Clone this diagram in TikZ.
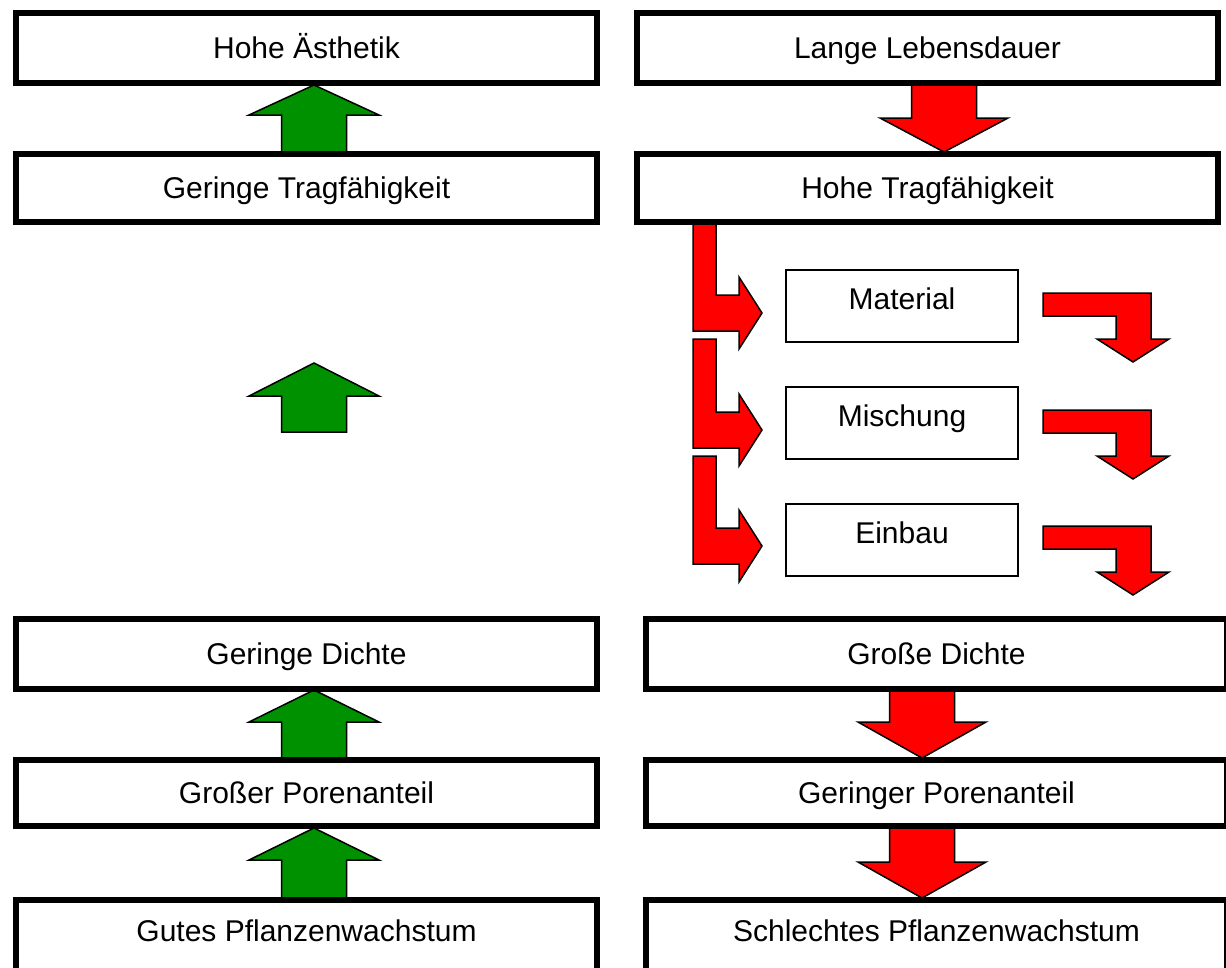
\documentclass[tikz,border=0pt]{standalone}
\usepackage{fontspec}
\setmainfont{Liberation Sans}
\definecolor{agreen}{RGB}{0,145,0}
\definecolor{ared}{RGB}{255,0,0}
\tikzset{
 txt/.style={font=\fontsize{30}{36}\selectfont, inner sep=0pt, text height=21.5pt, text depth=0pt},
 bigbox/.style={draw, line width=6pt, fill=white, rectangle, inner sep=0pt, minimum width=581pt, txt},
 smallbox/.style={draw, line width=2pt, fill=white, rectangle, inner sep=0pt, minimum width=232pt, minimum height=72pt},
 garr/.style={fill=agreen, draw=black, line width=1.5pt, line join=miter},
 rarr/.style={fill=ared, draw=black, line width=1.5pt, line join=miter},
}
\newcommand\GreenUp[4]{%
 \draw[garr] (#1,#2) -- (#1+65,#3) -- (#1+32.5,#3) -- (#1+32.5,#4) -- (#1-32.5,#4) -- (#1-32.5,#3) -- (#1-65,#3) -- cycle;}
\newcommand\RedDown[4]{%
 \draw[rarr] (#1-32.5,#2) -- (#1+32.5,#2) -- (#1+32.5,#3) -- (#1+64,#3) -- (#1,#4) -- (#1-64,#3) -- (#1-32.5,#3) -- cycle;}
\newcommand\RedL[2]{%
 \draw[rarr] (693,#1) -- (716,#1) -- (716,295+#2) -- (739,295+#2) -- (739,277+#2) -- (762,313+#2) -- (739,349+#2) -- (739,331+#2) -- (693,331+#2) -- cycle;}
\newcommand\RedBend[1]{%
 \draw[rarr] (1043,293+#1) -- (1151,293+#1) -- (1151,339+#1) -- (1169,339+#1) -- (1133,362+#1) -- (1097,339+#1) -- (1116,339+#1) -- (1116,316+#1) -- (1043,316+#1) -- cycle;}
\begin{document}
\begin{tikzpicture}[x=1pt,y=-1pt]
\clip (0,0) rectangle (1226,967);
% green arrows
\GreenUp{314}{85}{115}{154}
\GreenUp{314}{363}{396}{432}
\GreenUp{314}{690}{722}{760}
\GreenUp{314}{828}{860}{900}
% red arrows
\RedDown{944}{83}{118}{152}
\RedDown{922}{690}{722}{758}
\RedDown{922}{826}{862}{898}
\RedL{222}{0}
\RedL{339}{117}
\RedL{456}{233}
\RedBend{0}
\RedBend{117}
\RedBend{233}
% left column
\node[bigbox, minimum height=70pt] (aest) at (306.5,48) {Hohe Ästhetik};
\node[bigbox, minimum height=68pt] (gtrag) at (306.5,188) {Geringe Tragfähigkeit};
\node[bigbox, minimum height=70pt] (gdicht) at (306.5,654) {Geringe Dichte};
\node[bigbox, minimum height=66pt] (gpor) at (306.5,793) {Großer Porenanteil};
\node[bigbox, minimum height=75pt, label={[txt, yshift=6.5pt]center:Gutes Pflanzenwachstum}] (gpfl) at (306.5,937.5) {};
% right column
\node[bigbox, minimum height=70pt] (leb) at (927.5,48) {Lange Lebensdauer};
\node[bigbox, minimum height=68pt] (htrag) at (927.5,188) {Hohe Tragfähigkeit};
\node[bigbox, minimum height=70pt] (hdicht) at (936.5,654) {Große Dichte};
\node[bigbox, minimum height=66pt] (hpor) at (936.5,793) {Geringer Porenanteil};
\node[bigbox, minimum height=75pt, label={[txt, yshift=6.5pt]center:Schlechtes Pflanzenwachstum}] (spfl) at (936.5,937.5) {};
% small boxes
\node[smallbox, label={[txt, yshift=7pt]center:Material}] (mat) at (902,306) {};
\node[smallbox, label={[txt, yshift=7pt]center:Mischung}] (mis) at (902,423) {};
\node[smallbox, label={[txt, yshift=7pt]center:Einbau}] (ein) at (902,540) {};
\end{tikzpicture}
\end{document}
